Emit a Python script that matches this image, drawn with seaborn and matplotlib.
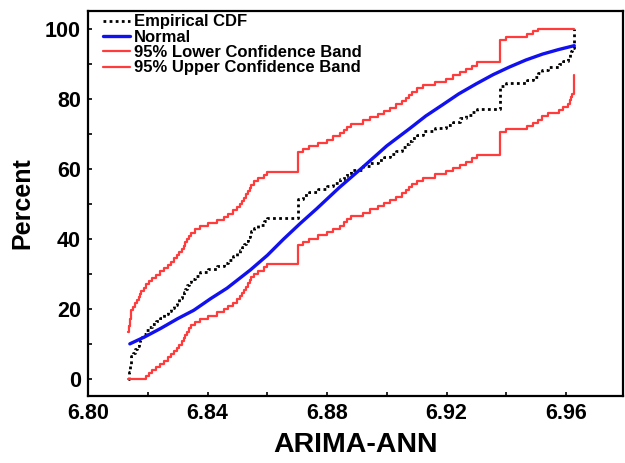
import numpy as np
import pandas as pd
import matplotlib
matplotlib.use('Agg')
import matplotlib.pyplot as plt
from matplotlib.ticker import MultipleLocator, FormatStrFormatter
import seaborn as sns

# step positions of the empirical CDF (ARIMA-ANN values)
step_x = [6.8135, 6.8136, 6.8138, 6.8140, 6.8141, 6.8143, 6.8144, 6.8145, 6.8150, 6.8158,
          6.8165, 6.8170, 6.8174, 6.8178, 6.8186, 6.8194, 6.8205, 6.8215, 6.8226, 6.8240,
          6.8254, 6.8266, 6.8277, 6.8288, 6.8298, 6.8306, 6.8314, 6.8320, 6.8326, 6.8332,
          6.8338, 6.8344, 6.8358, 6.8376, 6.8400, 6.8430, 6.8455, 6.8470, 6.8485, 6.8497,
          6.8509, 6.8516, 6.8523, 6.8530, 6.8536, 6.8541, 6.8546, 6.8556, 6.8568, 6.8590,
          6.8600, 6.8703, 6.8720, 6.8741, 6.8770, 6.8799, 6.8820, 6.8843, 6.8855, 6.8866,
          6.8880, 6.8921, 6.8945, 6.8970, 6.8990, 6.9009, 6.9030, 6.9050, 6.9065, 6.9075,
          6.9085, 6.9100, 6.9121, 6.9160, 6.9199, 6.9220, 6.9243, 6.9265, 6.9285, 6.9300,
          6.9377, 6.9400, 6.9470, 6.9490, 6.9505, 6.9518, 6.9540, 6.9575, 6.9590, 6.9605,
          6.9612, 6.9617, 6.9620, 6.9627]

ecdf_pct = [0.0, 0.9, 1.8, 2.8, 3.7, 4.6, 5.5, 6.4, 7.3, 8.3,
            9.2, 10.1, 11.0, 11.9, 12.8, 13.8, 14.7, 15.6, 16.5, 17.4,
            18.3, 19.3, 20.2, 21.1, 22.0, 22.9, 23.9, 24.8, 25.7, 26.6,
            27.5, 28.4, 29.4, 30.3, 31.2, 32.1, 33.0, 33.9, 34.9, 35.8,
            36.7, 37.6, 38.5, 39.4, 40.4, 41.3, 42.2, 43.1, 44.0, 45.0,
            45.9, 51.4, 52.3, 53.2, 54.1, 55.0, 56.0, 56.9, 57.8, 58.7,
            59.6, 60.6, 61.5, 62.4, 63.3, 64.2, 65.1, 66.1, 67.0, 67.9,
            68.8, 69.7, 70.6, 71.6, 72.5, 73.4, 74.3, 75.2, 76.1, 77.1,
            83.5, 84.4, 85.3, 86.2, 87.2, 88.1, 89.0, 89.9, 90.8, 91.7,
            92.7, 93.6, 94.5, 100.0]

upper_pct = [13.2, 14.1, 15.0, 16.0, 16.9, 17.8, 18.7, 19.6, 20.5, 21.5,
             22.4, 23.3, 24.2, 25.1, 26.0, 27.0, 27.9, 28.8, 29.7, 30.6,
             31.5, 32.5, 33.4, 34.3, 35.2, 36.1, 37.1, 38.0, 38.9, 39.8,
             40.7, 41.6, 42.6, 43.5, 44.4, 45.3, 46.2, 47.1, 48.1, 49.0,
             49.9, 50.8, 51.7, 52.6, 53.6, 54.5, 55.4, 56.3, 57.2, 58.2,
             59.1, 64.6, 65.5, 66.4, 67.3, 68.2, 69.2, 70.1, 71.0, 71.9,
             72.8, 73.8, 74.7, 75.6, 76.5, 77.4, 78.3, 79.3, 80.2, 81.1,
             82.0, 82.9, 83.8, 84.8, 85.7, 86.6, 87.5, 88.4, 89.3, 90.3,
             96.7, 97.6, 98.5, 99.4, 100.0, 100.0, 100.0, 100.0, 100.0, 100.0,
             100.0, 100.0, 100.0, 100.0]

lower_pct = [0.0, 0.0, 0.0, 0.0, 0.0, 0.0, 0.0, 0.0, 0.0, 0.0,
             0.0, 0.0, 0.0, 0.0, 0.0, 0.6, 1.5, 2.4, 3.3, 4.2,
             5.1, 6.1, 7.0, 7.9, 8.8, 9.7, 10.7, 11.6, 12.5, 13.4,
             14.3, 15.2, 16.2, 17.1, 18.0, 18.9, 19.8, 20.7, 21.7, 22.6,
             23.5, 24.4, 25.3, 26.2, 27.2, 28.1, 29.0, 29.9, 30.8, 31.8,
             32.7, 38.2, 39.1, 40.0, 40.9, 41.8, 42.8, 43.7, 44.6, 45.5,
             46.4, 47.4, 48.3, 49.2, 50.1, 51.0, 51.9, 52.9, 53.8, 54.7,
             55.6, 56.5, 57.4, 58.4, 59.3, 60.2, 61.1, 62.0, 62.9, 63.9,
             70.3, 71.2, 72.1, 73.0, 74.0, 74.9, 75.8, 76.7, 77.6, 78.5,
             79.5, 80.4, 81.3, 86.8]

# fitted normal CDF
normal_x = [6.8140, 6.8190, 6.8243, 6.8300, 6.8354, 6.8410, 6.8465, 6.8543, 6.8600,
            6.8654, 6.8710, 6.8765, 6.8840, 6.8921, 6.9000, 6.9076, 6.9130, 6.9188,
            6.9240, 6.9299, 6.9355, 6.9410, 6.9465, 6.9521, 6.9575, 6.9627]
normal_pct = [9.9, 11.9, 14.3, 17.1, 19.5, 22.8, 25.8, 31.0, 35.2,
              39.8, 44.3, 48.5, 54.5, 60.5, 66.5, 71.4, 75.0, 78.3,
              81.3, 84.2, 86.8, 89.0, 91.0, 92.7, 94.0, 95.1]

sns.set_style('ticks')
plt.rcParams['font.family'] = ['Liberation Sans', 'DejaVu Sans']
plt.rcParams['font.weight'] = 'bold'
plt.rcParams['text.color'] = 'black'
plt.rcParams['axes.labelcolor'] = 'black'
plt.rcParams['xtick.color'] = 'black'
plt.rcParams['ytick.color'] = 'black'

fig = plt.figure(figsize=(6.25, 4.63), dpi=100)
ax = fig.add_axes([0.1408, 0.1447, 0.8560, 0.8315])

red = '#ff3b3b'
sns.lineplot(x=step_x, y=ecdf_pct, ax=ax, drawstyle='steps-post', estimator=None, sort=False,
             color='black', linestyle=(0, (1, 1.2)), linewidth=2.0, label='Empirical CDF')
sns.lineplot(x=normal_x, y=normal_pct, ax=ax, estimator=None, sort=False,
             color='#1010f0', linewidth=2.4, label='Normal')
sns.lineplot(x=step_x, y=lower_pct, ax=ax, drawstyle='steps-post', estimator=None, sort=False,
             color=red, linewidth=1.6, label='95% Lower Confidence Band')
sns.lineplot(x=step_x, y=upper_pct, ax=ax, drawstyle='steps-post', estimator=None, sort=False,
             color=red, linewidth=1.6, label='95% Upper Confidence Band')

ax.set_xlim(6.80, 6.979)
ax.set_ylim(-5, 105)
ax.xaxis.set_major_locator(MultipleLocator(0.04))
ax.xaxis.set_minor_locator(MultipleLocator(0.02))
ax.xaxis.set_major_formatter(FormatStrFormatter('%.2f'))
ax.yaxis.set_major_locator(MultipleLocator(20))
ax.yaxis.set_minor_locator(MultipleLocator(10))
ax.tick_params(which='both', direction='in', length=3, width=1.2, colors='black')
ax.tick_params(which='major', labelsize=15.5, pad=5)
for lab in ax.get_xticklabels() + ax.get_yticklabels():
    lab.set_fontweight('bold')

for s in ax.spines.values():
    s.set_visible(True)
    s.set_linewidth(1.6)
    s.set_color('black')

ax.set_xlabel('ARIMA-ANN', fontsize=20.5, fontweight='bold', labelpad=6)
ax.set_ylabel('Percent', fontsize=18, fontweight='bold', labelpad=8)

leg = ax.legend(loc='upper left', bbox_to_anchor=(0.022, 1.0), frameon=False,
                prop={'size': 12, 'weight': 'bold'}, handlelength=1.6,
                handletextpad=0.25, labelspacing=0.02, borderpad=0.2, borderaxespad=0)
for t in leg.get_texts():
    t.set_color('black')

fig.savefig('out.png', dpi=100)
